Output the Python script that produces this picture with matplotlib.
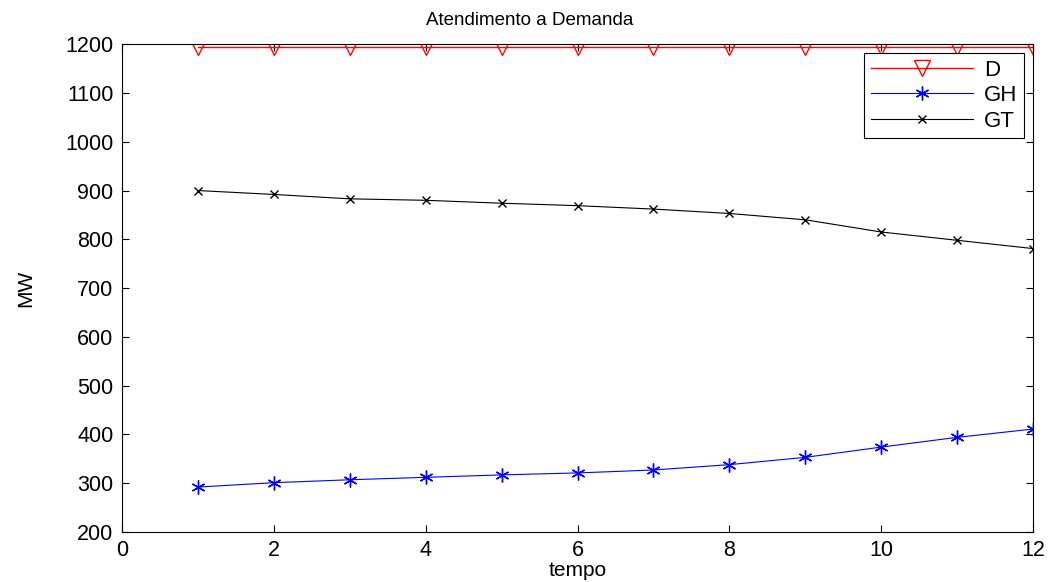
import matplotlib
matplotlib.use("Agg")
import matplotlib.pyplot as plt

plt.rcParams["font.family"] = ["Liberation Sans", "DejaVu Sans"]

# dados
tempo = [1, 2, 3, 4, 5, 6, 7, 8, 9, 10, 11, 12]
D = [1195] * 12
GH = [292, 301, 307, 312, 317, 321, 327, 338, 353, 374, 394, 411]
GT = [900, 892, 883, 880, 874, 869, 862, 853, 840, 815, 798, 781]

fig = plt.figure(figsize=(10.51, 5.82), dpi=100)
ax = fig.add_axes([0.116, 0.086, 0.867, 0.838])

ax.plot(tempo, D, color="red", marker="v", markersize=11, markerfacecolor="none",
        markeredgecolor="red", linewidth=1, label="D")
ax.plot(tempo, GH, color="blue", marker=(6, 2, 0), markersize=10, markeredgewidth=1,
        linewidth=0.8, label="GH")
ax.plot(tempo, GT, color="black", marker="x", markersize=6, linewidth=0.8, label="GT")

ax.set_xlim(0, 12)
ax.set_ylim(200, 1200)
ax.set_xticks(range(0, 13, 2))
ax.set_yticks(range(200, 1201, 100))
ax.tick_params(direction="in", top=True, right=True, labelsize=15.5, length=5, pad=6)
for s in ax.spines.values():
    s.set_linewidth(0.8)

ax.set_title("Atendimento a Demanda", fontsize=13.5, pad=14, x=0.448)
ax.set_xlabel("tempo", fontsize=15, labelpad=0)
ax.set_ylabel("MW", fontsize=15, labelpad=22)

leg = ax.legend(loc="upper right", bbox_to_anchor=(0.990, 0.982), fontsize=16,
                fancybox=False, edgecolor="black", framealpha=1,
                handlelength=4.6, handletextpad=0.5, borderpad=0.3,
                labelspacing=0.2, borderaxespad=0)
leg.get_frame().set_linewidth(0.8)

fig.savefig("out.png", dpi=100)
